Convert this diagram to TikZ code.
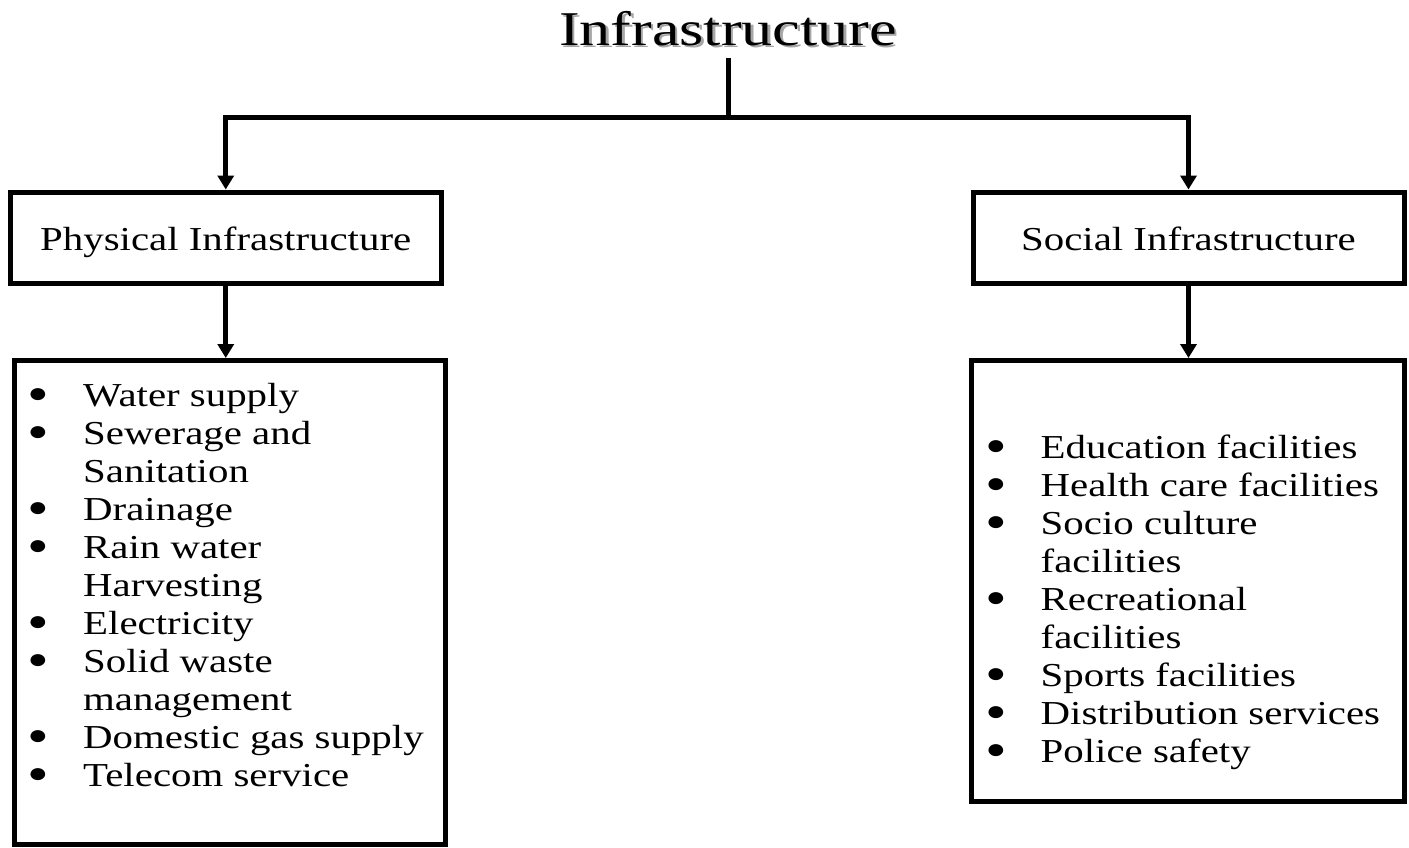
\documentclass[tikz,border=0pt]{standalone}
\usepackage{fontspec}
\setmainfont{Liberation Serif}
\newfontfamily\listfamily[FakeStretch=1.22]{Liberation Serif}
\newfontfamily\titlefamily[FakeStretch=1.28]{Liberation Serif}
\usetikzlibrary{arrows.meta}
\newcommand{\itembul}{\raisebox{4pt}{\fontsize{28}{28}\selectfont ●}}

\begin{document}
\begin{tikzpicture}[
  x=1pt, y=-1pt,
  headline/.style={inner sep=0pt, text depth=13pt, anchor=base, font=\titlefamily\fontsize{48.5}{50}\selectfont},
  catbox/.style={rectangle, draw, line width=5pt, minimum width=431pt, minimum height=91.5pt, inner sep=0pt, text height=24.5pt, text depth=0pt, font=\listfamily\fontsize{33.5}{38}\selectfont},
  listbox/.style={rectangle, draw, line width=5pt, inner sep=0pt},
  itemtext/.style={inner sep=0pt, anchor=base west, font=\listfamily\fontsize{33.5}{38}\selectfont},
  connector/.style={line width=5pt},
  arrowline/.style={connector, -{Triangle[length=14pt, width=16pt]}}
]
\useasboundingbox (0,0) rectangle (1409,847);

% title
\node[headline, text=black!35] (titleshadow) at (730.5,47.5) {Infrastructure};
\node[headline] (title) at (728,45) {Infrastructure};
\coordinate (split) at (728,117.5);

% categories
\node[catbox] (phys) at (225.75,237.75) {Physical Infrastructure};
\node[catbox] (soc) at (1188.5,237.75) {Social Infrastructure};

% lists
\node[listbox, minimum width=431pt, minimum height=484.2pt] (physlist) at (229.5,602.6) {};
\node[listbox, minimum width=432.5pt, minimum height=441.3pt] (soclist) at (1187.75,581.15) {};

\node[itemtext] (physitems) at (27.5,406.7) {\begin{tabular}[t]{@{}p{55.5pt}@{}l@{}}
\itembul & Water supply\\
\itembul & Sewerage and\\
 & Sanitation\\
\itembul & Drainage\\
\itembul & Rain water\\
 & Harvesting\\
\itembul & Electricity\\
\itembul & Solid waste\\
 & management\\
\itembul & Domestic gas supply\\
\itembul & Telecom service
\end{tabular}};

\node[itemtext] (socitems) at (985.5,458) {\begin{tabular}[t]{@{}p{55pt}@{}l@{}}
\itembul & Education facilities\\
\itembul & Health care facilities\\
\itembul & Socio culture\\
 & facilities\\
\itembul & Recreational\\
 & facilities\\
\itembul & Sports facilities\\
\itembul & Distribution services\\
\itembul & Police safety
\end{tabular}};

% connectors
\draw[connector] (title.south) -- (split);
\draw[arrowline] (split) -| (phys);
\draw[arrowline] (split) -| (soc);
\draw[arrowline] (phys) -- (phys |- physlist.north);
\draw[arrowline] (soc) -- (soc |- soclist.north);

\end{tikzpicture}
\end{document}
